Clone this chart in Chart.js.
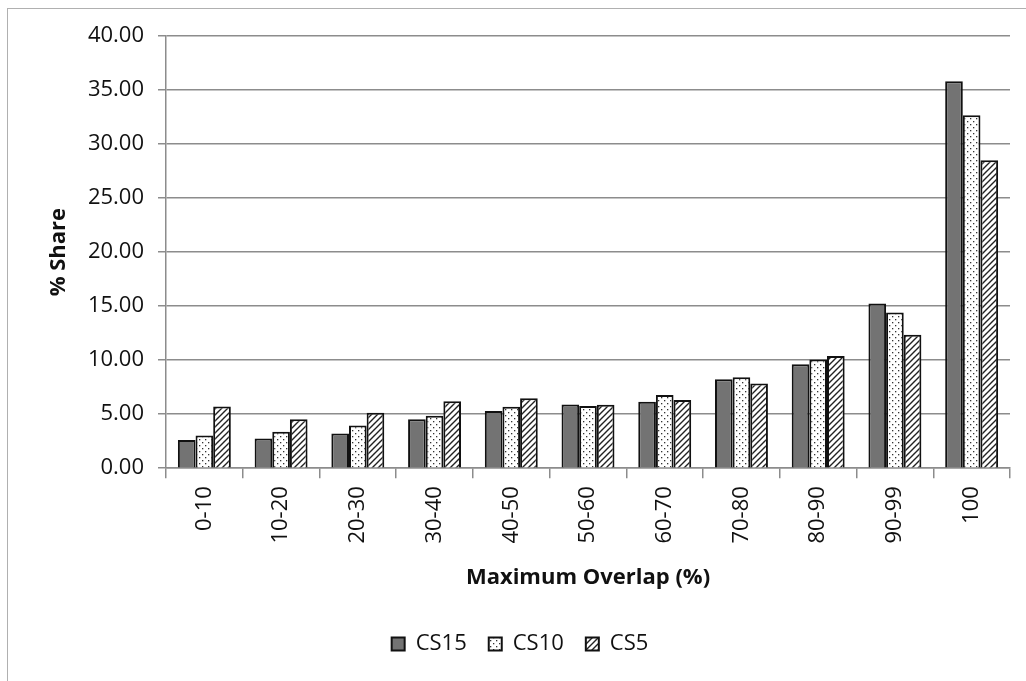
<!DOCTYPE html>
<html>
<head>
<meta charset="utf-8">
<script src="https://cdn.jsdelivr.net/npm/chart.js@4"></script>
<style>
  html, body { margin: 0; padding: 0; background: #fff; }
  #wrap { position: relative; width: 1026px; height: 681px; }
  #frame { position: absolute; left: 7px; top: 8px; right: -5px; bottom: -5px;
           border-left: 1px solid #b0b0b0; border-top: 1px solid #b0b0b0; pointer-events: none; }
</style>
</head>
<body>
<div id="wrap">
  <canvas id="overlapChart" width="1026" height="681"></canvas>
  <div id="frame"></div>
</div>
<script>
const categories = ['0-10', '10-20', '20-30', '30-40', '40-50', '50-60', '60-70', '70-80', '80-90', '90-99', '100'];
const cs15 = [2.60, 2.75, 3.22, 4.52, 5.29, 5.90, 6.15, 8.23, 9.62, 15.25, 35.82];
const cs10 = [3.03, 3.37, 3.96, 4.86, 5.69, 5.75, 6.77, 8.42, 10.05, 14.41, 32.67];
const cs5  = [5.72, 4.52, 5.13, 6.19, 6.47, 5.88, 6.31, 7.83, 10.39, 12.34, 28.49];
const yTicks = [0, 5, 10, 15, 20, 25, 30, 35, 40];

const FONT = "'Open Sans', sans-serif";

function dotPattern() {
    const c = document.createElement('canvas');
    c.width = 6; c.height = 6;
    const g = c.getContext('2d');
    g.fillStyle = '#fff';
    g.fillRect(0, 0, 6, 6);
    g.fillStyle = '#333';
    g.fillRect(1, 1, 1.3, 1.3);
    g.fillRect(4, 4, 1.3, 1.3);
    return g.createPattern(c, 'repeat');
}

function hatchPattern() {
    const s = 6;
    const c = document.createElement('canvas');
    c.width = s; c.height = s;
    const g = c.getContext('2d');
    g.fillStyle = '#fff';
    g.fillRect(0, 0, s, s);
    g.strokeStyle = '#222';
    g.lineWidth = 1.4;
    g.beginPath();
    g.moveTo(-1, s + 1); g.lineTo(s + 1, -1);
    g.moveTo(-1, 1); g.lineTo(1, -1);
    g.moveTo(s - 1, s + 1); g.lineTo(s + 1, s - 1);
    g.stroke();
    return g.createPattern(c, 'repeat');
}

const ctx = document.getElementById('overlapChart').getContext('2d');

const chart = new Chart(ctx, {
    type: 'bar',
    data: {
        labels: categories,
        datasets: [{
            label: 'CS15',
            data: cs15,
            backgroundColor: '#737373',
            borderColor: '#111',
            borderWidth: 2,
        }, {
            label: 'CS10',
            data: cs10,
            backgroundColor: dotPattern(),
            borderColor: '#111',
            borderWidth: 2,
        }, {
            label: 'CS5',
            data: cs5,
            backgroundColor: hatchPattern(),
            borderColor: '#111',
            borderWidth: 2,
        }]
    },
    options: {
        responsive: false,
        animation: false,
        layout: {
            padding: { top: 36, left: 30, right: 16, bottom: 16 }
        },
        datasets: {
            bar: {
                categoryPercentage: 0.69,
                barPercentage: 1.0,
            }
        },
        scales: {
            x: {
                grid: {
                    offset: true,
                    drawOnChartArea: false,
                    drawTicks: true,
                    tickLength: 10,
                    color: '#8c8c8c',
                    lineWidth: 1.5,
                },
                border: { color: '#8c8c8c', width: 1.5 },
                ticks: {
                    color: '#111',
                    font: { family: FONT, size: 22 },
                    minRotation: 90,
                    maxRotation: 90,
                    padding: 8,
                    autoSkip: false,
                },
                title: {
                    display: true,
                    text: 'Maximum Overlap (%)',
                    color: '#111',
                    font: { family: FONT, size: 22, weight: 'bold' },
                    padding: { top: 13, bottom: 20 },
                },
            },
            y: {
                min: 0,
                max: 40,
                afterBuildTicks: function (scale) {
                    scale.ticks = yTicks.map(v => ({ value: v }));
                },
                afterFit: function (scale) {
                    scale.width = 136;
                },
                grid: {
                    color: '#8c8c8c',
                    lineWidth: 1.5,
                    tickLength: 8,
                },
                border: { color: '#8c8c8c', width: 1.5 },
                ticks: {
                    color: '#111',
                    font: { family: FONT, size: 22 },
                    padding: 14,
                    callback: v => v.toFixed(2),
                },
                title: {
                    display: true,
                    text: '% Share',
                    color: '#111',
                    font: { family: FONT, size: 22, weight: 'bold' },
                    padding: { top: 16, bottom: 0 },
                },
            }
        },
        plugins: {
            legend: {
                position: 'bottom',
                labels: {
                    color: '#111',
                    font: { family: FONT, size: 22 },
                    boxWidth: 13,
                    boxHeight: 13,
                    padding: 22,
                },
            },
            tooltip: { enabled: false },
        }
    }
});
</script>
</body>
</html>
